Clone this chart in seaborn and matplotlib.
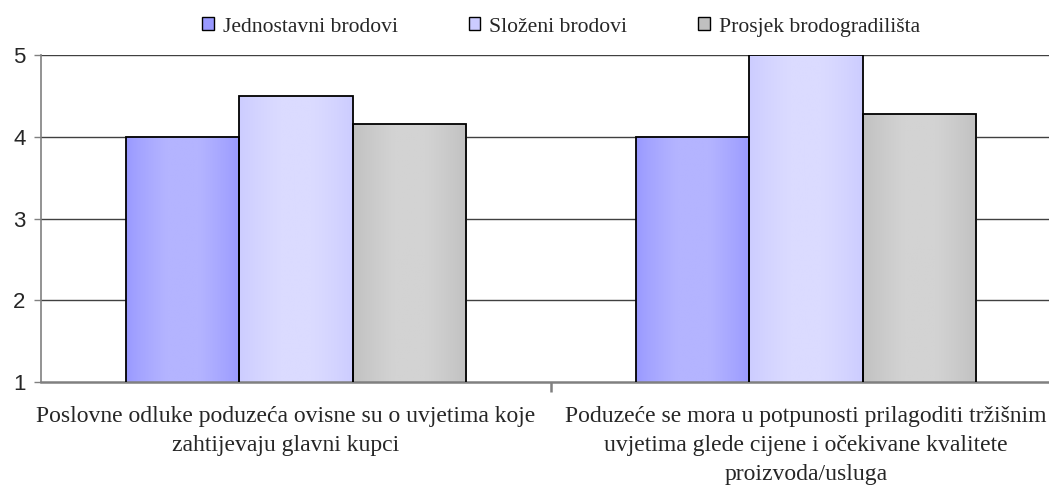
import numpy as np
import pandas as pd
import matplotlib
matplotlib.use("Agg")
import matplotlib.pyplot as plt
from matplotlib.colors import to_rgb
from matplotlib.patches import Patch
import seaborn as sns

categories = [
    "Poslovne odluke poduzeća ovisne su o uvjetima koje\nzahtijevaju glavni kupci",
    "Poduzeće se mora u potpunosti prilagoditi tržišnim\nuvjetima glede cijene i očekivane kvalitete\nproizvoda/usluga",
]
series = ["Jednostavni brodovi", "Složeni brodovi", "Prosjek brodogradilišta"]
jednostavni = [4.0, 4.0]
slozeni = [4.5, 5.0]
prosjek = [4.15, 4.28]
y_ticks = [1, 2, 3, 4, 5]

base_colors = ["#9999FF", "#CCCCFF", "#C0C0C0"]
light_colors = ["#B4B4FF", "#DBDBFF", "#D3D3D3"]

rows = []
for name, vals in zip(series, [jednostavni, slozeni, prosjek]):
    for cat, v in zip(categories, vals):
        rows.append({"kategorija": cat, "serija": name, "vrijednost": v})
df = pd.DataFrame(rows)

sns.set_theme(style="white")
plt.rcParams["font.family"] = ["Liberation Serif", "DejaVu Serif"]

fig = plt.figure(figsize=(10.49, 4.86), dpi=100)
ax = fig.add_axes([41 / 1049, 1 - 382 / 486, 1020 / 1049, (382 - 55) / 486])

sns.barplot(data=df, x="kategorija", y="vrijednost", hue="serija",
            hue_order=series, palette=base_colors, width=0.667,
            saturation=1, edgecolor="black", linewidth=1.3,
            legend=False, ax=ax, zorder=3)

y_min, y_max = 1, 5
ax.set_ylim(y_min, y_max)
ax.set_xlim(-0.5, 1.5)

# horizontal gradient inside every bar, clipped to the bar outline
xs = np.linspace(0, 1, 64)
t = 1 - np.abs(2 * xs - 1)
profile = np.clip(t * 1.4, 0, 1) ** 0.8
for i, patch in enumerate(ax.patches):
    hue_idx = i // len(categories)
    c0 = np.array(to_rgb(base_colors[hue_idx]))
    c1 = np.array(to_rgb(light_colors[hue_idx]))
    grad = c0[None, :] + (c1 - c0)[None, :] * profile[:, None]
    img = grad[None, :, :]
    x0, w = patch.get_x(), patch.get_width()
    top = patch.get_y() + patch.get_height()
    im = ax.imshow(img, extent=[x0, x0 + w, y_min, top], aspect="auto",
                   zorder=2.5, interpolation="bilinear")
    im.set_clip_path(patch)
    patch.set_facecolor("none")
    patch.set_zorder(3)

ax.set_xlim(-0.5, 1.5)
ax.set_ylim(y_min, y_max)

ax.set_yticks(y_ticks)
ax.set_yticklabels([str(v) for v in y_ticks], family=["Liberation Sans"], fontsize=16)
for v in y_ticks[1:]:
    ax.axhline(v, color="#404040", linewidth=1.0, zorder=1)

ax.set_xticks([0.5])
ax.set_xticklabels([""])
label_x = [-0.02, 0.0]
for i, cat in enumerate(categories):
    ax.text(i + label_x[i], -0.072, cat, transform=ax.get_xaxis_transform(),
            ha="center", va="top", fontsize=17.0, linespacing=1.52)

ax.set_xlabel("")
ax.set_ylabel("")
for s in ["top", "right"]:
    ax.spines[s].set_visible(False)
ax.spines["left"].set_color("#808080")
ax.spines["left"].set_linewidth(1.2)
ax.spines["bottom"].set_color("#808080")
ax.spines["bottom"].set_linewidth(1.8)
ax.tick_params(axis="y", direction="out", length=5, width=1, color="#808080", left=True, pad=6)
ax.tick_params(axis="x", direction="out", length=7, width=1.8, color="#808080", bottom=True)

handles = [Patch(facecolor=c, edgecolor="black", linewidth=1.0) for c in base_colors]
fig.legend(handles, series, loc="center", bbox_to_anchor=(561 / 1049, 1 - 27 / 486),
           ncol=3, frameon=False, fontsize=15.6, handlelength=0.55, handleheight=0.55,
           handletextpad=0.41, columnspacing=3.25)

fig.savefig("out.png", dpi=100)
